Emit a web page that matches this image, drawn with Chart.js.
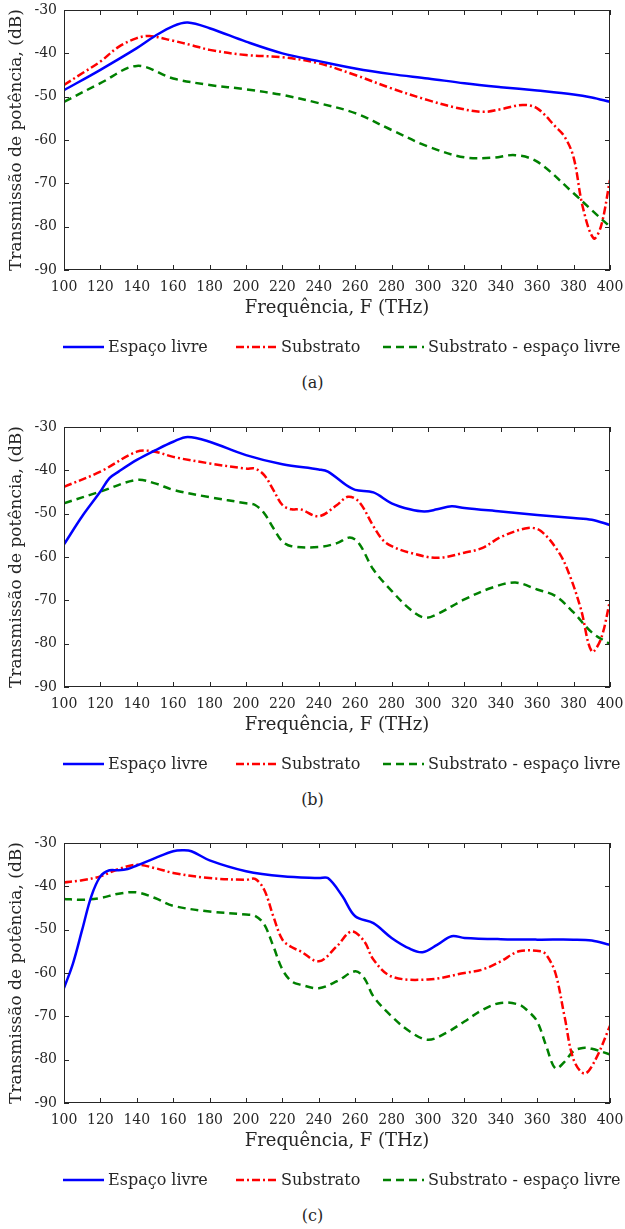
<!DOCTYPE html>
<html>
<head>
<meta charset="utf-8">
<script src="https://cdn.jsdelivr.net/npm/chart.js@4.4.0/dist/chart.umd.min.js"></script>
<style>
  body { margin: 0; background: #fff; width: 625px; height: 1229px; position: relative; font-family: 'DejaVu Serif', serif; color: #262626; }
  .painel { position: absolute; left: 0; width: 625px; height: 410px; }
  .painel canvas { display: block; }
  .rotulo { position: absolute; left: 0; top: 370px; width: 625px; height: 26px; line-height: 26px; text-align: center; font-size: 16px; }
</style>
</head>
<body>
<div class="painel" style="top:0px"><canvas id="graficoA" width="625" height="365"></canvas><div class="rotulo">(a)</div></div>
<div class="painel" style="top:417px"><canvas id="graficoB" width="625" height="365"></canvas><div class="rotulo">(b)</div></div>
<div class="painel" style="top:833px"><canvas id="graficoC" width="625" height="365"></canvas><div class="rotulo">(c)</div></div>
<script>
// Transmissão de potência vs frequência - três casos (a), (b), (c)
const rotulos = ['Espaço livre', 'Substrato', 'Substrato - espaço livre'];

// (a)
const freqLivreA = [100,120,140,150,160,168,180,200,220,240,260,280,300,320,340,360,380,390,400];
const livreA = [-48.5,-43.8,-38.8,-36.0,-33.7,-32.9,-34.2,-37.3,-40.0,-41.8,-43.5,-44.8,-45.8,-46.9,-47.8,-48.6,-49.5,-50.2,-51.2];
const freqSubA = [100,110,120,130,140,147,160,170,180,200,220,240,260,280,300,315,330,340,352,360,370,375,380,385,391,395,400];
const subA = [-47.3,-44.6,-41.9,-38.5,-36.5,-36.0,-37.1,-38.1,-39.2,-40.4,-40.9,-42.3,-45.0,-48.1,-50.8,-52.5,-53.5,-52.9,-51.9,-52.7,-56.9,-59.2,-64.0,-75.4,-82.7,-80.0,-69.2];
const freqDifA = [100,120,140,160,180,200,220,240,260,280,300,320,335,348,360,380,390,400];
const difA = [-51.2,-46.9,-42.9,-45.8,-47.3,-48.3,-49.6,-51.5,-53.8,-57.7,-61.5,-64.0,-64.1,-63.5,-65.0,-72.3,-76.2,-80.0];

// (b)
const freqLivreB = [100,110,120,125,130,140,150,160,168,180,200,220,240,245,255,260,270,280,290,298,305,313,320,340,360,380,390,400];
const livreB = [-57.1,-50.6,-44.9,-41.8,-40.3,-37.6,-35.4,-33.4,-32.3,-33.4,-36.5,-38.6,-39.8,-40.3,-43.4,-44.5,-45.1,-47.6,-49.0,-49.5,-49.0,-48.3,-48.7,-49.5,-50.3,-51.0,-51.4,-52.6];
const freqSubB = [100,120,140,150,160,180,200,205,210,215,220,225,230,240,250,256,262,270,275,280,290,305,320,330,340,355,362,372,378,384,390,395,400];
const subB = [-43.8,-40.3,-35.7,-35.7,-36.9,-38.4,-39.6,-39.6,-41.1,-44.5,-48.0,-49.0,-49.0,-50.6,-48.0,-46.1,-47.2,-52.9,-56.0,-57.5,-59.0,-60.2,-59.0,-57.9,-55.4,-53.3,-54.0,-59.0,-64.4,-72.0,-81.8,-78.9,-70.1];
const freqDifB = [100,120,140,150,160,180,200,205,210,215,220,225,240,250,257,262,270,280,290,298,305,320,335,348,360,370,380,390,400];
const difB = [-47.6,-44.9,-42.2,-43.0,-44.5,-46.2,-47.6,-48.0,-49.9,-53.3,-56.4,-57.5,-57.7,-56.8,-55.5,-56.8,-62.9,-67.8,-72.0,-74.0,-73.2,-69.8,-67.1,-65.9,-67.5,-69.0,-72.8,-77.4,-80.1];

// (c)
const freqLivreC = [100,105,110,115,120,125,130,135,140,150,160,165,170,180,200,220,240,245,253,260,270,280,290,297,305,313,320,340,360,380,390,400];
const livreC = [-63.5,-57.7,-50.0,-42.3,-37.7,-36.3,-36.3,-36.0,-35.2,-33.5,-31.9,-31.7,-31.9,-34.0,-36.5,-37.7,-38.1,-38.1,-42.3,-46.9,-48.5,-51.9,-54.4,-55.2,-53.5,-51.5,-51.9,-52.2,-52.3,-52.3,-52.5,-53.5];
const freqSubC = [100,110,120,130,140,150,160,180,200,205,210,215,220,225,230,240,250,258,265,270,280,300,320,330,340,350,362,365,370,375,380,386,392,400];
const subC = [-39.1,-38.6,-37.7,-36.0,-35.0,-35.8,-36.9,-38.1,-38.5,-38.3,-40.8,-46.9,-52.3,-54.0,-55.0,-57.3,-53.8,-50.4,-52.7,-56.9,-60.8,-61.5,-60.0,-59.2,-57.3,-55.0,-55.0,-55.8,-60.0,-70.0,-80.0,-83.2,-80.0,-72.2];
const freqDifC = [100,110,120,130,140,150,160,180,200,205,210,215,220,225,230,240,250,260,265,270,280,290,300,310,320,330,340,350,355,360,365,370,375,380,385,390,400];
const difC = [-42.9,-43.1,-42.7,-41.7,-41.4,-42.7,-44.5,-45.8,-46.5,-46.8,-48.8,-53.8,-59.2,-61.9,-62.7,-63.5,-61.9,-59.6,-61.2,-65.4,-70.0,-73.5,-75.4,-73.8,-71.2,-68.5,-66.9,-67.3,-68.8,-71.2,-76.9,-82.0,-80.5,-78.0,-77.3,-77.5,-78.8];

const ticksX = { min: 100, max: 400, passo: 20 };
const ticksY = { min: -90, max: -30, passo: 10 };

const corTexto = '#262626';
Chart.defaults.font.family = "'DejaVu Serif', serif";
Chart.defaults.color = corTexto;

// moldura com marcas de escala para dentro (estilo MATLAB)
const moldura = {
  id: 'moldura',
  afterDatasetsDraw(chart) {
    const { ctx, chartArea: a, scales: { x, y } } = chart;
    ctx.save();
    ctx.strokeStyle = corTexto;
    ctx.lineWidth = 1;
    ctx.beginPath();
    x.ticks.forEach(t => {
      const px = Math.round(x.getPixelForValue(t.value)) + 0.5;
      ctx.moveTo(px, a.bottom); ctx.lineTo(px, a.bottom - 5);
      ctx.moveTo(px, a.top); ctx.lineTo(px, a.top + 5);
    });
    y.ticks.forEach(t => {
      const py = Math.round(y.getPixelForValue(t.value)) + 0.5;
      ctx.moveTo(a.left, py); ctx.lineTo(a.left + 5, py);
      ctx.moveTo(a.right, py); ctx.lineTo(a.right - 5, py);
    });
    ctx.stroke();
    ctx.strokeRect(Math.round(a.left) + 0.5, Math.round(a.top) + 0.5, Math.round(a.width) - 1, Math.round(a.height) - 1);
    ctx.restore();
  }
};

// legenda com o traço de cada série (a legenda nativa não desenha tracejado com pointStyle)
const legendaTraco = {
  id: 'legendaTraco',
  afterDraw(chart) {
    const ctx = chart.ctx;
    const inicio = [63, 236, 383];
    const comp = 41;
    const y = 347;
    chart.data.datasets.forEach((ds, i) => {
      ctx.save();
      ctx.strokeStyle = ds.borderColor;
      ctx.lineWidth = ds.borderWidth;
      ctx.setLineDash(ds.borderDash);
      ctx.beginPath();
      ctx.moveTo(inicio[i], y);
      ctx.lineTo(inicio[i] + comp, y);
      ctx.stroke();
      ctx.setLineDash([]);
      ctx.fillStyle = corTexto;
      ctx.font = "16px 'DejaVu Serif', serif";
      ctx.textBaseline = 'middle';
      ctx.fillText(ds.label, inicio[i] + comp + 4, y + 1);
      ctx.restore();
    });
  }
};

function pontos(f, v) {
  return f.map((x, i) => ({ x: x, y: v[i] }));
}

function serie(label, f, v, cor, traco) {
  return {
    label: label,
    data: pontos(f, v),
    borderColor: cor,
    backgroundColor: cor,
    borderWidth: 2.5,
    borderDash: traco,
    pointRadius: 0,
    tension: 0.35,
    fill: false
  };
}

function criarGrafico(id, livre, sub, dif) {
  new Chart(document.getElementById(id), {
    type: 'line',
    data: {
      datasets: [
        serie(rotulos[0], livre[0], livre[1], '#0000ff', []),
        serie(rotulos[1], sub[0], sub[1], '#ff0000', [8, 3, 2, 3]),
        serie(rotulos[2], dif[0], dif[1], '#008000', [8, 5])
      ]
    },
    options: {
      responsive: false,
      animation: false,
      layout: { padding: { top: 10, right: 15, left: 0, bottom: 50 } },
      plugins: {
        tooltip: { enabled: false },
        legend: { display: false }
      },
      scales: {
        x: {
          type: 'linear',
          min: ticksX.min,
          max: ticksX.max,
          ticks: { stepSize: ticksX.passo, padding: 9, font: { size: 14 }, color: corTexto, maxRotation: 0 },
          grid: { display: false, drawTicks: false },
          border: { display: false },
          title: { display: true, text: 'Frequência, F (THz)', font: { size: 18 }, color: corTexto, padding: { top: 0, bottom: -4 } },
          afterFit: s => { s.height = 45; s.paddingLeft = 0; s.paddingRight = 0; }
        },
        y: {
          min: ticksY.min,
          max: ticksY.max,
          ticks: { stepSize: ticksY.passo, padding: 7, font: { size: 14 }, color: corTexto },
          grid: { display: false, drawTicks: false },
          border: { display: false },
          title: { display: true, text: 'Transmissão de potência, (dB)', font: { size: 17 }, color: corTexto, padding: { top: 6, bottom: 0 } },
          afterFit: s => { s.width = 64; s.paddingTop = 0; s.paddingBottom = 0; }
        }
      }
    },
    plugins: [moldura, legendaTraco]
  });
}

criarGrafico('graficoA', [freqLivreA, livreA], [freqSubA, subA], [freqDifA, difA]);
criarGrafico('graficoB', [freqLivreB, livreB], [freqSubB, subB], [freqDifB, difB]);
criarGrafico('graficoC', [freqLivreC, livreC], [freqSubC, subC], [freqDifC, difC]);
</script>
</body>
</html>
